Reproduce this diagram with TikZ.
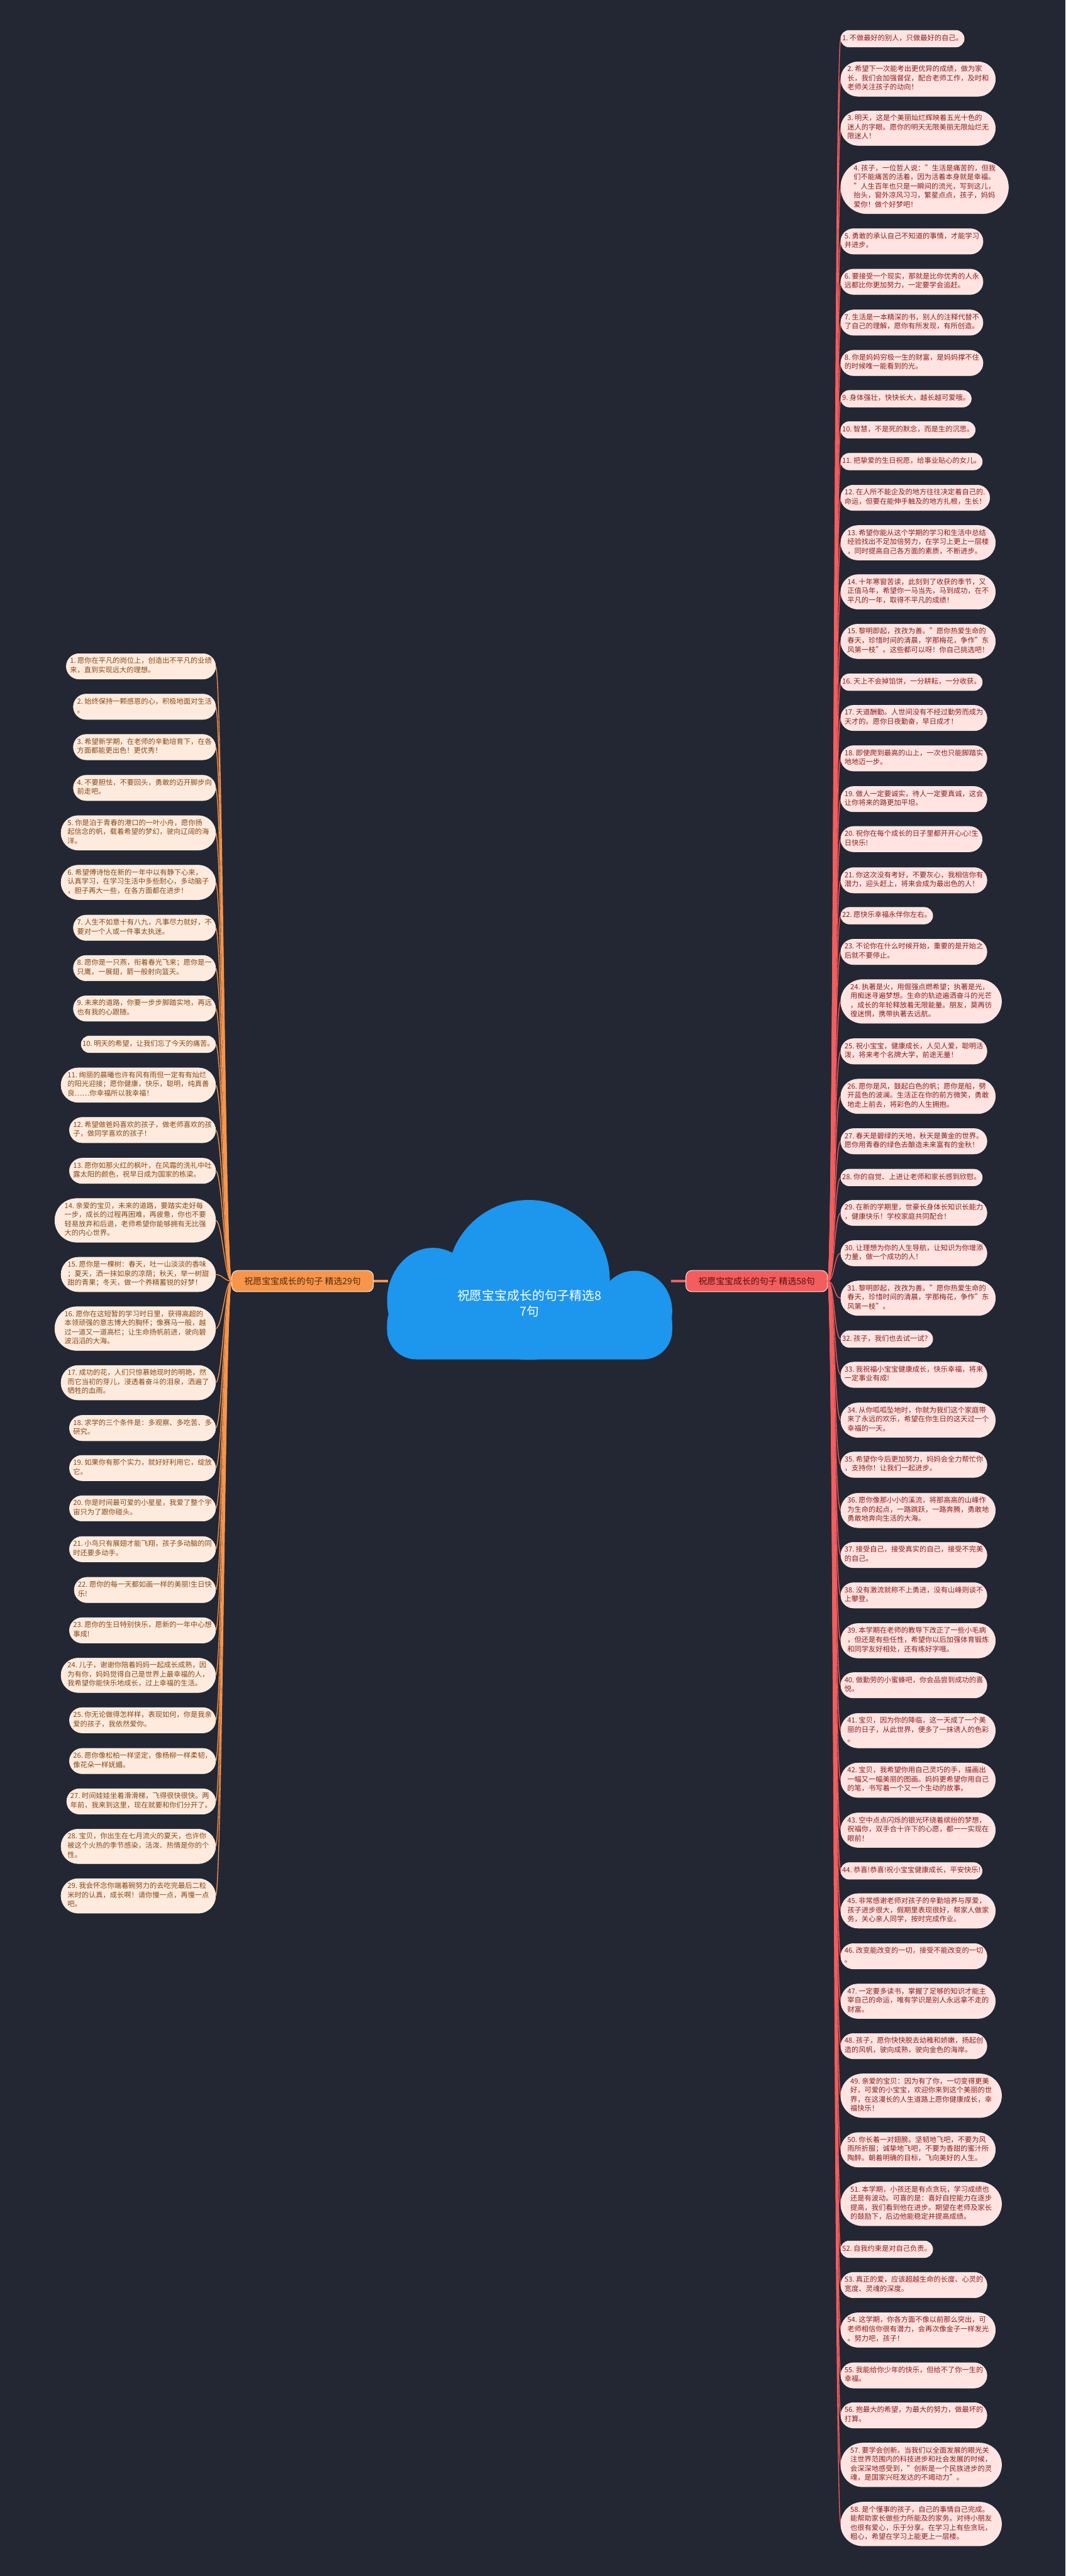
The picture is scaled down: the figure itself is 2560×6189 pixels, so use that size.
\documentclass[tikz,border=0pt]{standalone}
\usepackage{fontspec}
\setmainfont{Noto Sans CJK SC}
\usepackage{tikz}
\usetikzlibrary{shapes.misc}
\definecolor{bgcol}{HTML}{232734}
\definecolor{cloudblue}{HTML}{1D96EE}
\definecolor{redmain}{HTML}{F45D5D}
\definecolor{redleaf}{HTML}{FFE4E1}
\definecolor{redtext}{HTML}{8E1C1C}
\definecolor{orgmain}{HTML}{F7954B}
\definecolor{orgleaf}{HTML}{FEEBDD}
\definecolor{orgtext}{HTML}{8A4716}
\tikzset{lf/.style={rounded rectangle,inner xsep=0pt,inner ysep=9pt,outer sep=0pt,
           line width=1pt,align=left,font=\fontsize{17}{22}\selectfont\frenchspacing,
           execute at begin node=\strut,execute at end node=\strut},
  rleaf/.style={lf,fill=redleaf,draw=white!50!redleaf,text=redtext,anchor=west},
  lleaf/.style={lf,fill=orgleaf,draw=white!50!orgleaf,text=orgtext,anchor=east},
  mainbox/.style={rounded corners=14pt,line width=1.5pt,minimum height=51pt,
           minimum width=340pt,inner xsep=4pt,font=\fontsize{21}{24}\selectfont},
  mainL/.style={mainbox,fill=orgmain,draw=orgleaf,text=orgtext!60!black},
  mainR/.style={mainbox,fill=redmain,draw=redleaf,text=redtext!60!black},
  rline/.style={draw=redmain,line width=2pt},
  lline/.style={draw=orgmain,line width=2pt}
}
\begin{document}
\begin{tikzpicture}[x=1pt,y=-1pt]
\useasboundingbox (0,0) rectangle (2560,6189);
\fill[bgcol] (0,0) rectangle (2560,6189);

% cloud
\fill[cloudblue] (1270,3075) ellipse [x radius=195,y radius=192];
\fill[cloudblue] (1040,3125) ellipse [x radius=110,y radius=127];
\fill[cloudblue] (1525,3150) ellipse [x radius=90,y radius=97];
\fill[cloudblue,rounded corners=70pt] (930,3110) rectangle (1615,3266);
\node[minimum width=680pt,minimum height=150pt,align=center,text=white,
      font=\fontsize{30}{37}\selectfont] (root) at (1272,3131)
      {祝愿宝宝成长的句子精选8\\7句};

\node[mainL] (lmain) at (727,3078) {祝愿宝宝成长的句子 精选29句};
\node[mainR] (rmain) at (1818,3078) {祝愿宝宝成长的句子 精选58句};
\draw[orgmain,line width=5pt] (lmain.east) -- (lmain.east -| root.west);
\draw[redmain,line width=5pt] (rmain.west) -- (rmain.west -| root.east);

% right branch
\node[rleaf] (R1) at (2020,93) {1. 不做最好的别人，只做最好的自己。};
\node[rleaf] (R2) at (2020,190) {2. 希望下一次能考出更优异的成绩，做为家\\长，我们会加强督促，配合老师工作，及时和\\老师关注孩子的动向！};
\node[rleaf] (R3) at (2020,308) {3. 明天，这是个美丽灿烂辉映着五光十色的\\迷人的字眼。愿你的明天无限美丽无限灿烂无\\限迷人！};
\node[rleaf] (R4) at (2020,450) {4. 孩子，一位哲人说："生活是痛苦的，但我\\们不能痛苦的活着，因为活着本身就是幸福。\\"人生百年也只是一瞬间的流光，写到这儿，\\抬头，窗外凉风习习，繁星点点，孩子，妈妈\\爱你！做个好梦吧！};
\node[rleaf] (R5) at (2020,580) {5. 勇敢的承认自己不知道的事情，才能学习\\并进步。};
\node[rleaf] (R6) at (2020,677) {6. 要接受一个现实，那就是比你优秀的人永\\远都比你更加努力，一定要学会追赶。};
\node[rleaf] (R7) at (2020,775) {7. 生活是一本精深的书，别人的注释代替不\\了自己的理解，愿你有所发现，有所创造。};
\node[rleaf] (R8) at (2020,872) {8. 你是妈妈穷极一生的财富，是妈妈撑不住\\的时候唯一能看到的光。};
\node[rleaf] (R9) at (2020,958) {9. 身体强壮，快快长大，越长越可爱哦。};
\node[rleaf] (R10) at (2020,1033) {10. 智慧，不是死的默念，而是生的沉思。};
\node[rleaf] (R11) at (2020,1109) {11. 把挚爱的生日祝愿，给事业贴心的女儿。};
\node[rleaf] (R12) at (2020,1196) {12. 在人所不能企及的地方往往决定着自己的.\\命运，但要在能伸手触及的地方扎根，生长！};
\node[rleaf] (R13) at (2020,1304) {13. 希望你能从这个学期的学习和生活中总结\\经验找出不足加倍努力，在学习上更上一层楼\\，同时提高自己各方面的素质，不断进步。};
\node[rleaf] (R14) at (2020,1422) {14. 十年寒窗苦读，此刻到了收获的季节，又\\正值马年，希望你一马当先，马到成功，在不\\平凡的一年，取得不平凡的成绩！};
\node[rleaf] (R15) at (2020,1541) {15. 黎明即起，孜孜为善。"愿你热爱生命的\\春天，珍惜时间的清晨，学那梅花，争作"东\\风第一枝"。这些都可以呀！你自己挑选吧！};
\node[rleaf] (R16) at (2020,1639) {16. 天上不会掉馅饼，一分耕耘，一分收获。};
\node[rleaf] (R17) at (2020,1725) {17. 天道酬勤。人世间没有不经过勤劳而成为\\天才的。愿你日夜勤奋，早日成才！};
\node[rleaf] (R18) at (2020,1822) {18. 即使爬到最高的山上，一次也只能脚踏实\\地地迈一步。};
\node[rleaf] (R19) at (2020,1920) {19. 做人一定要诚实，待人一定要真诚，这会\\让你将来的路更加平坦。};
\node[rleaf] (R20) at (2020,2016) {20. 祝你在每个成长的日子里都开开心心!生\\日快乐!};
\node[rleaf] (R21) at (2020,2115) {21. 你这次没有考好，不要灰心，我相信你有\\潜力，迎头赶上，将来会成为最出色的人！};
\node[rleaf] (R22) at (2020,2200) {22. 愿快乐幸福永伴你左右。};
\node[rleaf] (R23) at (2020,2287) {23. 不论你在什么时候开始，重要的是开始之\\后就不要停止。};
\node[rleaf] (R24) at (2020,2406) {24. 执著是火，用倔强点燃希望；执著是光，\\用痴迷寻遍梦想。生命的轨迹遍洒奋斗的光芒\\，成长的年轮释放着无限能量。朋友，莫再彷\\徨迷惘，携带执著去远航。};
\node[rleaf] (R25) at (2020,2526) {25. 祝小宝宝，健康成长，人见人爱，聪明活\\泼，将来考个名牌大学，前途无量！};
\node[rleaf] (R26) at (2020,2634) {26. 愿你是风，鼓起白色的帆；愿你是船，劈\\开蓝色的波澜。生活正在你的前方微笑，勇敢\\地走上前去，将彩色的人生拥抱。};
\node[rleaf] (R27) at (2020,2742) {27. 春天是碧绿的天地，秋天是黄金的世界。\\愿你用青春的绿色去酿造未来富有的金秋！};
\node[rleaf] (R28) at (2020,2829) {28. 你的自觉、上进让老师和家长感到欣慰。};
\node[rleaf] (R29) at (2020,2914) {29. 在新的学期里，世豪长身体长知识长能力\\，健康快乐！学校家庭共同配合！};
\node[rleaf] (R30) at (2020,3011) {30. 让理想为你的人生导航，让知识为你增添\\力量，做一个成功的人！};
\node[rleaf] (R31) at (2020,3119) {31. 黎明即起，孜孜为善。"愿你热爱生命的\\春天，珍惜时间的清晨，学那梅花，争作"东\\风第一枝"。};
\node[rleaf] (R32) at (2020,3217) {32. 孩子，我们也去试一试？};
\node[rleaf] (R33) at (2020,3303) {33. 我祝福小宝宝健康成长，快乐幸福，将来\\一定事业有成!};
\node[rleaf] (R34) at (2020,3412) {34. 从你呱呱坠地时，你就为我们这个家庭带\\来了永远的欢乐，希望在你生日的这天过一个\\幸福的一天。};
\node[rleaf] (R35) at (2020,3519) {35. 希望你今后更加努力，妈妈会全力帮忙你\\，支持你！让我们一起进步。};
\node[rleaf] (R36) at (2020,3629) {36. 愿你像那小小的溪流，将那高高的山峰作\\为生命的起点，一路跳跃，一路奔腾，勇敢地\\勇敢地奔向生活的大海。};
\node[rleaf] (R37) at (2020,3736) {37. 接受自己，接受真实的自己，接受不完美\\的自己。};
\node[rleaf] (R38) at (2020,3833) {38. 没有激流就称不上勇进，没有山峰则谈不\\上攀登。};
\node[rleaf] (R39) at (2020,3942) {39. 本学期在老师的教导下改正了一些小毛病\\，但还是有些任性，希望你以后加强体育锻炼\\和同学友好相处，还有练好字哦。};
\node[rleaf] (R40) at (2020,4049) {40. 做勤劳的小蜜蜂吧，你会品尝到成功的喜\\悦。};
\node[rleaf] (R41) at (2020,4158) {41. 宝贝，因为你的降临，这一天成了一个美\\丽的日子，从此世界，便多了一抹诱人的色彩\\。};
\node[rleaf] (R42) at (2020,4277) {42. 宝贝，我希望你用自己灵巧的手，描画出\\一幅又一幅美丽的图画。妈妈更希望你用自己\\的笔，书写着一个又一个生动的故事。};
\node[rleaf] (R43) at (2020,4397) {43. 空中点点闪烁的银光环绕着缤纷的梦想，\\祝福你，双手合十许下的心愿，都一一实现在\\眼前！};
\node[rleaf] (R44) at (2020,4495) {44. 恭喜!恭喜!祝小宝宝健康成长，平安快乐!};
\node[rleaf] (R45) at (2020,4591) {45. 非常感谢老师对孩子的辛勤培养与厚爱，\\孩子进步很大，假期里表现很好，帮家人做家\\务，关心亲人同学，按时完成作业。};
\node[rleaf] (R46) at (2020,4700) {46. 改变能改变的一切，接受不能改变的一切\\。};
\node[rleaf] (R47) at (2020,4808) {47. 一定要多读书，掌握了足够的知识才能主\\宰自己的命运，唯有学识是别人永远拿不走的\\财富。};
\node[rleaf] (R48) at (2020,4916) {48. 孩子，愿你快快脱去幼稚和娇嫩，扬起创\\造的风帆，驶向成熟，驶向金色的海岸。};
\node[rleaf] (R49) at (2020,5035) {49. 亲爱的宝贝：因为有了你，一切变得更美\\好，可爱的小宝宝，欢迎你来到这个美丽的世\\界，在这漫长的人生道路上愿你健康成长，幸\\福快乐！};
\node[rleaf] (R50) at (2020,5165) {50. 你长着一对翅膀。坚韧地飞吧，不要为风\\雨所折服；诚挚地飞吧，不要为香甜的蜜汁所\\陶醉。朝着明确的目标，飞向美好的人生。};
\node[rleaf] (R51) at (2020,5295) {51. 本学期，小孩还是有点贪玩，学习成绩也\\还是有波动。可喜的是：喜好自控能力在逐步\\提高，我们看到他在进步。期望在老师及家长\\的鼓励下，后边他能稳定并提高成绩。};
\node[rleaf] (R52) at (2020,5404) {52. 自我约束是对自己负责。};
\node[rleaf] (R53) at (2020,5490) {53. 真正的爱，应该超越生命的长度、心灵的\\宽度、灵魂的深度。};
\node[rleaf] (R54) at (2020,5598) {54. 这学期，你各方面不像以前那么突出，可\\老师相信你很有潜力，会再次像金子一样发光\\。努力吧，孩子！};
\node[rleaf] (R55) at (2020,5707) {55. 我能给你少年的快乐，但给不了你一生的\\幸福。};
\node[rleaf] (R56) at (2020,5803) {56. 抱最大的希望，为最大的努力，做最坏的\\打算。};
\node[rleaf] (R57) at (2020,5922) {57. 要学会创新。当我们以全面发展的眼光关\\注世界范围内的科技进步和社会发展的时候，\\会深深地感受到，"创新是一个民族进步的灵\\魂，是国家兴旺发达的不竭动力"。};
\node[rleaf] (R58) at (2020,6064) {58. 是个懂事的孩子，自己的事情自己完成。\\能帮助家长做些力所能及的家务。对待小朋友\\也很有爱心，乐于分享。在学习上有些贪玩，\\粗心，希望在学习上能更上一层楼。};

% left branch
\node[lleaf] (L1) at (518,1601) {1. 愿你在平凡的岗位上，创造出不平凡的业绩\\来，直到实现远大的理想。};
\node[lleaf] (L2) at (518,1698) {2. 始终保持一颗感恩的心，积极地面对生活\\。};
\node[lleaf] (L3) at (518,1795) {3. 希望新学期，在老师的辛勤培育下，在各\\方面都能更出色！更优秀！};
\node[lleaf] (L4) at (518,1893) {4. 不要胆怯，不要回头，勇敢的迈开脚步向\\前走吧。};
\node[lleaf] (L5) at (518,2001) {5. 你是泊于青春的港口的一叶小舟，愿你扬\\起信念的帆，载着希望的梦幻，驶向辽阔的海\\洋。};
\node[lleaf] (L6) at (518,2120) {6. 希望傅诗怡在新的一年中以有静下心来，\\认真学习，在学习生活中多些耐心，多动脑子\\，胆子再大一些，在各方面都在进步！};
\node[lleaf] (L7) at (518,2229) {7. 人生不如意十有八九，凡事尽力就好，不\\要对一个人或一件事太执迷。};
\node[lleaf] (L8) at (518,2326) {8. 愿你是一只燕，衔着春光飞来；愿你是一\\只鹰，一展翅，箭一般射向篮天。};
\node[lleaf] (L9) at (518,2423) {9. 未来的道路，你要一步步脚踏实地，再远\\也有我的心跟随。};
\node[lleaf] (L10) at (518,2509) {10. 明天的希望，让我们忘了今天的痛苦。};
\node[lleaf] (L11) at (518,2607) {11. 绚丽的晨曦也许有风有雨但一定有有灿烂\\的阳光迎接；愿你健康，快乐，聪明，纯真善\\良……你幸福所以我幸福！};
\node[lleaf] (L12) at (518,2715) {12. 希望做爸妈喜欢的孩子，做老师喜欢的孩\\子，做同学喜欢的孩子！};
\node[lleaf] (L13) at (518,2813) {13. 愿你如那火红的枫叶，在风霜的洗礼中吐\\露太阳的颜色，祝早日成为国家的栋梁。};
\node[lleaf] (L14) at (518,2932) {14. 亲爱的宝贝，未来的道路，要踏实走好每\\一步，成长的过程再困难，再疲惫，你也不要\\轻易放弃和后退，老师希望你能够拥有无比强\\大的内心世界。};
\node[lleaf] (L15) at (518,3062) {15. 愿你是一棵树：春天，吐一山淡淡的香味\\；夏天，洒一抹如泉的凉荫；秋天，举一树甜\\甜的青果；冬天，做一个养精蓄锐的好梦！};
\node[lleaf] (L16) at (518,3192) {16. 愿你在这短暂的学习时日里，获得高超的\\本领顽强的意志博大的胸怀；像赛马一般，越\\过一道又一道高栏；让生命扬帆前进，驶向碧\\波滔滔的大海。};
\node[lleaf] (L17) at (518,3322) {17. 成功的花，人们只惊慕她现时的明艳，然\\而它当初的芽儿，浸透着奋斗的泪泉，洒遍了\\牺牲的血雨。};
\node[lleaf] (L18) at (518,3431) {18. 求学的三个条件是：多观察、多吃苦、多\\研究。};
\node[lleaf] (L19) at (518,3527) {19. 如果你有那个实力，就好好利用它，绽放\\它。};
\node[lleaf] (L20) at (518,3624) {20. 你是时间最可爱的小星星，我爱了整个宇\\宙只为了跟你碰头。};
\node[lleaf] (L21) at (518,3722) {21. 小鸟只有展翅才能飞翔，孩子多动脑的同\\时还要多动手。};
\node[lleaf] (L22) at (518,3820) {22. 愿你的每一天都如画一样的美丽!生日快\\乐!};
\node[lleaf] (L23) at (518,3917) {23. 愿你的生日特别快乐，愿新的一年中心想\\事成!};
\node[lleaf] (L24) at (518,4025) {24. 儿子，谢谢你陪着妈妈一起成长成熟，因\\为有你，妈妈觉得自己是世界上最幸福的人，\\我希望你能快乐地成长，过上幸福的生活。};
\node[lleaf] (L25) at (518,4133) {25. 你无论做得怎样样，表现如何，你是我亲\\爱的孩子，我依然爱你。};
\node[lleaf] (L26) at (518,4231) {26. 愿你像松柏一样坚定，像杨柳一样柔韧，\\像花朵一样妩媚。};
\node[lleaf] (L27) at (518,4328) {27. 时间娃娃坐着滑滑梯，飞得很快很快。两\\年前，我来到这里，现在就要和你们分开了。};
\node[lleaf] (L28) at (518,4436) {28. 宝贝，你出生在七月流火的夏天，也许你\\被这个火热的季节感染，活泼、热情是你的个\\性。};
\node[lleaf] (L29) at (518,4555) {29. 我会怀念你端着碗努力的去吃完最后二粒\\米时的认真，成长啊！请你慢一点，再慢一点\\吧。};

\foreach \i in {1,...,58}
  \draw[rline] (rmain.east) .. controls +(16,0) and +(-16,0) .. (R\i.west);
\foreach \i in {1,...,29}
  \draw[lline] (lmain.west) .. controls +(-16,0) and +(16,0) .. (L\i.east);
\end{tikzpicture}
\end{document}
